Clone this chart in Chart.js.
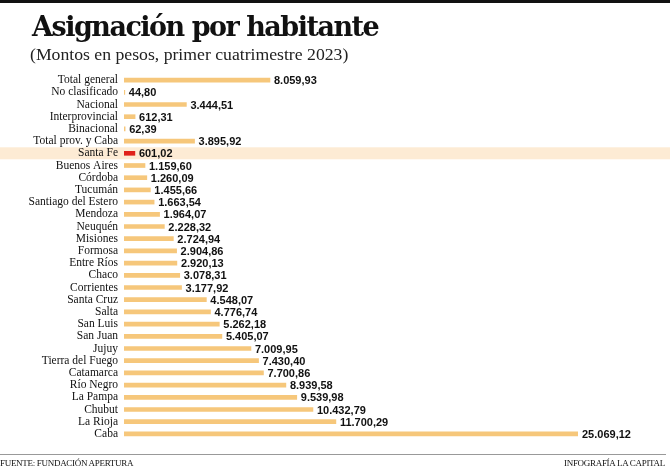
<!DOCTYPE html>
<html><head><meta charset="utf-8">
<script src="https://cdn.jsdelivr.net/npm/chart.js@4"></script>
<style>
html,body{margin:0;padding:0;background:#fff;}
#wrap{position:relative;width:670px;height:467px;overflow:hidden;}
#topbar{position:absolute;left:0;top:0;width:670px;height:3px;background:#111;}
#title{position:absolute;left:32px;top:11px;font:bold 27px 'DejaVu Serif',serif;color:#111;letter-spacing:-1.5px;white-space:nowrap;}
#sub{position:absolute;left:30px;top:44px;font:17.7px 'Liberation Serif',serif;color:#222;white-space:nowrap;letter-spacing:0px;}
#rule{position:absolute;left:0;top:454px;width:666px;height:1px;background:#999;}
#src{position:absolute;left:0;top:458px;font:9px 'Liberation Serif',serif;color:#111;white-space:nowrap;letter-spacing:-0.3px;}
#cred{position:absolute;right:5px;top:458px;font:9px 'Liberation Serif',serif;color:#111;white-space:nowrap;letter-spacing:-0.3px;}
canvas{position:absolute;left:0;top:0;}
</style></head>
<body><div id="wrap">
<canvas id="c" width="670" height="467"></canvas>
<div id="topbar"></div>
<div id="title">Asignación por habitante</div>
<div id="sub">(Montos en pesos, primer cuatrimestre 2023)</div>
<div id="rule"></div>
<div id="src">FUENTE: FUNDACIÓN APERTURA</div>
<div id="cred">INFOGRAFÍA LA CAPITAL</div>
</div>
<script>
const categories = ["Total general","No clasificado","Nacional","Interprovincial","Binacional","Total prov. y Caba","Santa Fe","Buenos Aires","Córdoba","Tucumán","Santiago del Estero","Mendoza","Neuquén","Misiones","Formosa","Entre Ríos","Chaco","Corrientes","Santa Cruz","Salta","San Luis","San Juan","Jujuy","Tierra del Fuego","Catamarca","Río Negro","La Pampa","Chubut","La Rioja","Caba"];
const values = [8059.93,44.80,3444.51,612.31,62.39,3895.92,601.02,1159.60,1260.09,1455.66,1663.54,1964.07,2228.32,2724.94,2904.86,2920.13,3078.31,3177.92,4548.07,4776.74,5262.18,5405.07,7009.95,7430.40,7700.86,8939.58,9539.98,10432.79,11700.29,25069.12];
const highlight = "Santa Fe";

const BAR = '#F6C77B', RED = '#E0211B', BAND = '#FDEBD4';

function fmt(v){
  const parts = v.toFixed(2).split('.');
  const int = parts[0].replace(/\B(?=(\d{3})+(?!\d))/g,'.');
  return int + ',' + parts[1];
}

const bandPlugin = {
  id:'band',
  beforeDraw(chart){
    const y = chart.scales.y;
    const i = categories.indexOf(highlight);
    const py = y.getPixelForValue(i);
    const ctx = chart.ctx;
    ctx.save();
    ctx.fillStyle = BAND;
    ctx.fillRect(0, py-6, chart.width, 12);
    ctx.restore();
  }
};
const labelPlugin = {
  id:'vals',
  afterDatasetsDraw(chart){
    const ctx = chart.ctx;
    const meta = chart.getDatasetMeta(0);
    ctx.save();
    ctx.font = "bold 11px 'Liberation Sans', sans-serif";
    ctx.fillStyle = '#111';
    ctx.textBaseline = 'middle';
    ctx.textAlign = 'left';
    meta.data.forEach((bar,i)=>{
      ctx.fillText(fmt(values[i]), bar.x+4, bar.y+1);
    });
    ctx.restore();
  }
};

new Chart(document.getElementById('c'), {
  type:'bar',
  data:{labels:categories, datasets:[{data:values, backgroundColor:categories.map(c=>c===highlight?RED:BAR), barThickness:4, borderWidth:0}]},
  options:{
    indexAxis:'y', responsive:false, animation:false,
    layout:{padding:{left:0,top:74,bottom:27,right:92}},
    plugins:{legend:{display:false},tooltip:{enabled:false}},
    scales:{
      x:{display:false,min:0,max:Math.max(...values)},
      y:{grid:{display:false,drawTicks:false},border:{display:false},
         afterFit(s){s.width=124;},
         ticks:{padding:6,color:'#111',font:{family:"'Liberation Serif', serif",size:11.5},autoSkip:false}}
    }
  },
  plugins:[bandPlugin,labelPlugin]
});
</script>
</body></html>
